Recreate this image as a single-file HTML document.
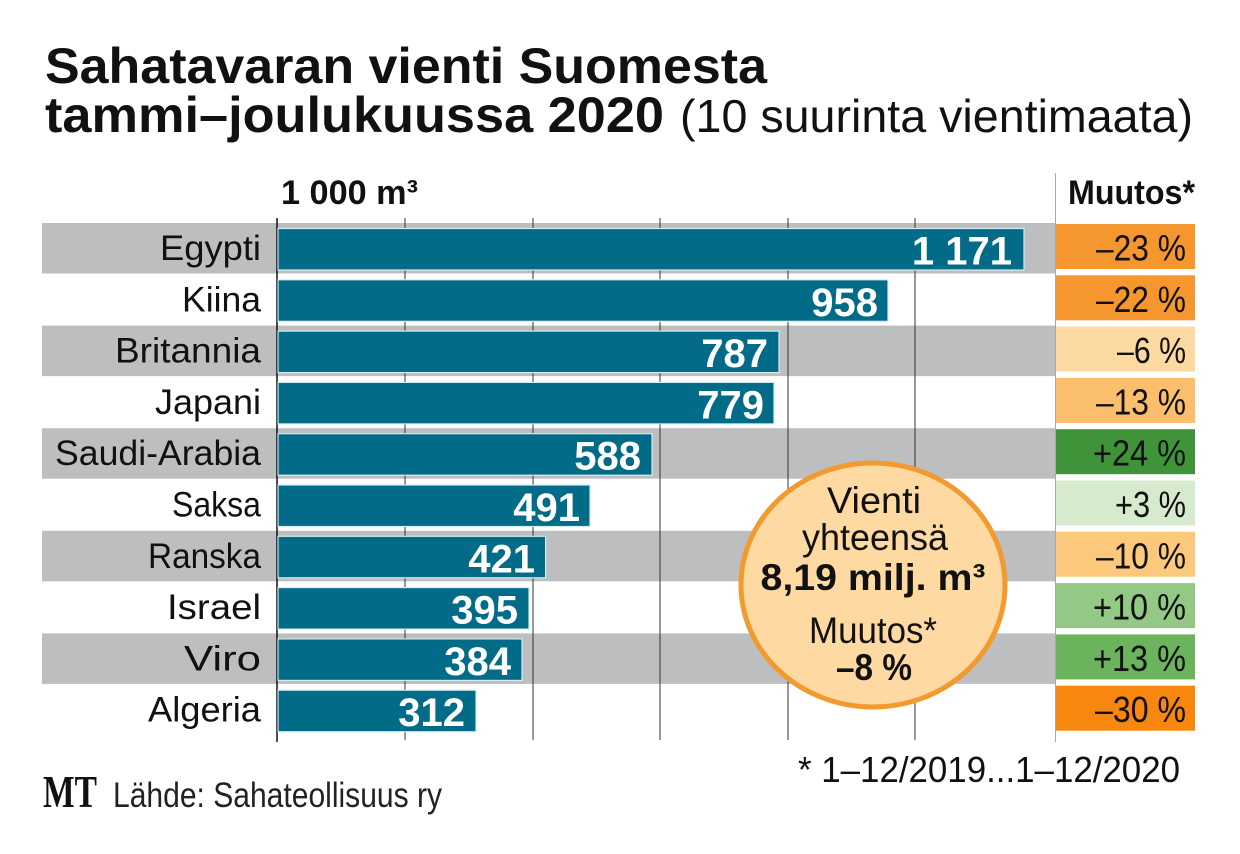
<!DOCTYPE html>
<html>
<head>
<meta charset="utf-8">
<style>
html,body{margin:0;padding:0;background:#fff;}
svg{display:block;}
text{font-family:"Liberation Sans",sans-serif;}
</style>
</head>
<body>
<svg width="1240" height="854" viewBox="0 0 1240 854" xmlns="http://www.w3.org/2000/svg">
<rect x="0" y="0" width="1240" height="854" fill="#fff"/>

<!-- Title -->
<text x="45" y="83" font-size="50" font-weight="bold" fill="#111" textLength="722" lengthAdjust="spacingAndGlyphs">Sahatavaran vienti Suomesta</text>
<text x="45" y="132" font-size="50" font-weight="bold" fill="#111" textLength="619" lengthAdjust="spacingAndGlyphs">tammi–joulukuussa 2020</text>
<text x="680" y="132" font-size="46" fill="#111" textLength="513" lengthAdjust="spacingAndGlyphs">(10 suurinta vientimaata)</text>

<!-- Headers -->
<text x="281" y="204" font-size="34" font-weight="bold" fill="#111" textLength="137" lengthAdjust="spacingAndGlyphs">1 000 m³</text>
<text x="1068" y="204" font-size="34" font-weight="bold" fill="#111" textLength="127" lengthAdjust="spacingAndGlyphs">Muutos*</text>

<!-- Stripes -->
<g fill="#bcbec0">
<rect x="42" y="223" width="1013" height="50.5"/>
<rect x="42" y="325.6" width="1013" height="50.5"/>
<rect x="42" y="428.2" width="1013" height="50.5"/>
<rect x="42" y="530.8" width="1013" height="50.5"/>
<rect x="42" y="633.4" width="1013" height="50.5"/>
</g>

<!-- Gridlines -->
<g stroke="#333" stroke-width="1">
<line x1="405" y1="218" x2="405" y2="740"/>
<line x1="533" y1="218" x2="533" y2="740"/>
<line x1="660" y1="218" x2="660" y2="740"/>
<line x1="788" y1="218" x2="788" y2="740"/>
<line x1="915" y1="218" x2="915" y2="740"/>
</g>
<line x1="277" y1="218" x2="277" y2="742" stroke="#111" stroke-width="1.5"/>
<line x1="1055.5" y1="173" x2="1055.5" y2="742" stroke="#a8a8a8" stroke-width="1"/>

<!-- Bars -->
<g fill="#026b88" stroke="#d3ecf1" stroke-width="1.2">
<rect x="278" y="228.5" width="746" height="41.5"/>
<rect x="278" y="279.8" width="610" height="41.5"/>
<rect x="278" y="331.1" width="501" height="41.5"/>
<rect x="278" y="382.4" width="496" height="41.5"/>
<rect x="278" y="433.7" width="374" height="41.5"/>
<rect x="278" y="485" width="312" height="41.5"/>
<rect x="278" y="536.3" width="267.6" height="41.5"/>
<rect x="278" y="587.6" width="251" height="41.5"/>
<rect x="278" y="638.9" width="244" height="41.5"/>
<rect x="278" y="690.2" width="198" height="41.5"/>
</g>

<!-- Country labels -->
<g font-size="35" fill="#111" text-anchor="end">
<text x="261" y="260" textLength="101" lengthAdjust="spacingAndGlyphs">Egypti</text>
<text x="261" y="311.3" textLength="79" lengthAdjust="spacingAndGlyphs">Kiina</text>
<text x="261" y="362.6" textLength="146" lengthAdjust="spacingAndGlyphs">Britannia</text>
<text x="261" y="413.9" textLength="106" lengthAdjust="spacingAndGlyphs">Japani</text>
<text x="261" y="465.2" textLength="206" lengthAdjust="spacingAndGlyphs">Saudi-Arabia</text>
<text x="261" y="516.5" textLength="89" lengthAdjust="spacingAndGlyphs">Saksa</text>
<text x="261" y="567.8" textLength="113" lengthAdjust="spacingAndGlyphs">Ranska</text>
<text x="261" y="619.1" textLength="94" lengthAdjust="spacingAndGlyphs">Israel</text>
<text x="261" y="670.4" textLength="77" lengthAdjust="spacingAndGlyphs">Viro</text>
<text x="261" y="721.7" textLength="113" lengthAdjust="spacingAndGlyphs">Algeria</text>
</g>

<!-- Values -->
<g font-size="40" font-weight="bold" fill="#fff" text-anchor="end">
<text x="1012" y="264.5">1 171</text>
<text x="878" y="315.8">958</text>
<text x="768" y="367.1">787</text>
<text x="764" y="418.4">779</text>
<text x="641" y="469.7">588</text>
<text x="580" y="521">491</text>
<text x="535" y="572.3">421</text>
<text x="518" y="623.6">395</text>
<text x="511" y="674.9">384</text>
<text x="465" y="726.2">312</text>
</g>

<!-- Change boxes -->
<rect x="1056" y="224" width="139" height="45" fill="#f6962e"/>
<rect x="1056" y="275.3" width="139" height="45" fill="#f6962e"/>
<rect x="1056" y="326.6" width="139" height="45" fill="#fdd9a2"/>
<rect x="1056" y="377.9" width="139" height="45" fill="#fbbe6c"/>
<rect x="1056" y="429.2" width="139" height="45" fill="#3f9439"/>
<rect x="1056" y="480.5" width="139" height="45" fill="#d6ebcd"/>
<rect x="1056" y="531.8" width="139" height="45" fill="#fcc97c"/>
<rect x="1056" y="583.1" width="139" height="45" fill="#93c985"/>
<rect x="1056" y="634.4" width="139" height="45" fill="#6cb35e"/>
<rect x="1056" y="685.7" width="139" height="45" fill="#f7870e"/>

<g font-size="36" fill="#111" text-anchor="end">
<text x="1186" y="260.5" textLength="90" lengthAdjust="spacingAndGlyphs">–23 %</text>
<text x="1186" y="311.8" textLength="90" lengthAdjust="spacingAndGlyphs">–22 %</text>
<text x="1186" y="363.1" textLength="69" lengthAdjust="spacingAndGlyphs">–6 %</text>
<text x="1186" y="414.4" textLength="90" lengthAdjust="spacingAndGlyphs">–13 %</text>
<text x="1186" y="465.7" textLength="93" lengthAdjust="spacingAndGlyphs">+24 %</text>
<text x="1186" y="517" textLength="71" lengthAdjust="spacingAndGlyphs">+3 %</text>
<text x="1186" y="568.3" textLength="90" lengthAdjust="spacingAndGlyphs">–10 %</text>
<text x="1186" y="619.6" textLength="93" lengthAdjust="spacingAndGlyphs">+10 %</text>
<text x="1186" y="670.9" textLength="93" lengthAdjust="spacingAndGlyphs">+13 %</text>
<text x="1186" y="722.2" textLength="91" lengthAdjust="spacingAndGlyphs">–30 %</text>
</g>

<!-- Circle -->
<ellipse cx="873" cy="585" rx="132" ry="122" fill="#fed9a2" stroke="#f29a2e" stroke-width="5"/>
<g fill="#111" text-anchor="middle">
<text x="874" y="513" font-size="37" textLength="94" lengthAdjust="spacingAndGlyphs">Vienti</text>
<text x="875" y="550" font-size="37" textLength="146" lengthAdjust="spacingAndGlyphs">yhteensä</text>
<text x="873" y="590" font-size="37" font-weight="bold" textLength="225" lengthAdjust="spacingAndGlyphs">8,19 milj. m³</text>
<text x="873" y="643" font-size="37" textLength="128" lengthAdjust="spacingAndGlyphs">Muutos*</text>
<text x="874" y="680" font-size="37" font-weight="bold" textLength="76" lengthAdjust="spacingAndGlyphs">–8 %</text>
</g>

<!-- Footnote -->
<text x="1180" y="782" font-size="36" fill="#111" text-anchor="end" textLength="382" lengthAdjust="spacingAndGlyphs">* 1–12/2019...1–12/2020</text>

<!-- Footer -->
<text x="43" y="807" font-size="46" font-weight="bold" fill="#111" textLength="54" lengthAdjust="spacingAndGlyphs" style="font-family:'Liberation Serif',serif">MT</text>
<text x="113" y="807" font-size="35" fill="#222" textLength="329" lengthAdjust="spacingAndGlyphs">Lähde: Sahateollisuus ry</text>
</svg>
</body>
</html>
